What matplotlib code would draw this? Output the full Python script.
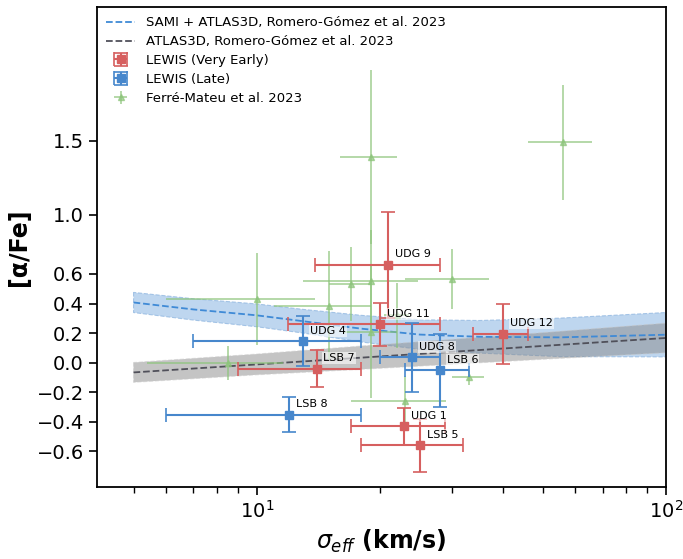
import numpy as np
import matplotlib
matplotlib.use("Agg")
import matplotlib.pyplot as plt

# ---- relations ----
sami_sigma = [5, 7, 10, 13, 18, 25, 35, 55, 100]
sami_y = [0.407, 0.36, 0.32, 0.28, 0.23, 0.19, 0.175, 0.171, 0.189]
sami_hw = [0.068, 0.072, 0.077, 0.08, 0.09, 0.10, 0.11, 0.13, 0.15]

atlas_sigma = [5, 10, 20, 50, 100]
atlas_y = [-0.066, -0.012, 0.042, 0.113, 0.167]
atlas_hw = [0.067, 0.07, 0.08, 0.09, 0.10]

# ---- LEWIS very early ----
early_names = ['UDG 9', 'UDG 11', 'UDG 12', 'LSB 7', 'UDG 1', 'LSB 5']
early_x = [20.9, 20.0, 40.0, 14.0, 22.9, 25.0]
early_y = [0.66, 0.26, 0.195, -0.04, -0.43, -0.56]
early_xlo = [7.0, 8.1, 6.2, 5.0, 5.9, 7.0]
early_xhi = [7.1, 8.0, 6.0, 4.0, 5.9, 7.0]
early_yerr = [0.36, 0.145, 0.205, 0.124, 0.125, 0.18]

# ---- LEWIS late ----
late_names = ['UDG 4', 'UDG 8', 'LSB 6', 'LSB 8']
late_x = [13.0, 24.0, 28.0, 12.0]
late_y = [0.145, 0.035, -0.052, -0.353]
late_xlo = [6.0, 4.0, 5.0, 6.0]
late_xhi = [5.0, 4.0, 5.0, 6.0]
late_yerr = [0.168, 0.236, 0.245, 0.118]

# ---- Ferre-Mateu et al. 2023 ----
fm_x = [10, 8.5, 15, 17, 19, 19, 19, 22, 30, 33, 23, 56]
fm_y = [0.43, 0.0, 0.385, 0.53, 1.39, 0.55, 0.21, 0.32, 0.566, -0.10, -0.257, 1.49]
fm_xlo = [4.0, 3.1, 4.0, 2.0, 3.0, 6.0, 2.7, 1.5, 7.0, 3.0, 6.0, 10.0]
fm_xhi = [3.9, 3.1, 4.0, 2.0, 3.0, 5.8, 3.0, 1.5, 7.0, 3.0, 6.0, 10.0]
fm_yerr = [0.31, 0.115, 0.37, 0.25, 0.59, 0.35, 0.45, 0.22, 0.2, 0.05, 0.17, 0.39]

yticks = [-0.6, -0.4, -0.2, 0.0, 0.2, 0.4, 0.6, 1.0, 1.5]

RED = '#d65f5f'
BLUE = '#4787cc'
GREEN = '#8cc47a'

fig = plt.figure(figsize=(6.83, 5.59), dpi=100)
ax = fig.add_axes([0.142, 0.129, 0.833, 0.8585])

s_y = np.array(sami_y); s_hw = np.array(sami_hw)
a_y = np.array(atlas_y); a_hw = np.array(atlas_hw)

ax.fill_between(sami_sigma, s_y - s_hw, s_y + s_hw, facecolor='#a9c9ea', alpha=0.75,
                edgecolor='#8fb6e0', linestyle='--', linewidth=0.8, zorder=1)
ax.fill_between(atlas_sigma, a_y - a_hw, a_y + a_hw, facecolor='#8a8a8a', alpha=0.5,
                edgecolor='#c8c8c8', linestyle='--', linewidth=0.8, zorder=1)
ax.plot(sami_sigma, sami_y, '--', color='#3f8ad6', lw=1.3, zorder=2,
        label='SAMI + ATLAS3D, Romero-Gómez et al. 2023')
ax.plot(atlas_sigma, atlas_y, '--', color='#50505a', lw=1.3, zorder=2,
        label='ATLAS3D, Romero-Gómez et al. 2023')

ax.errorbar(early_x, early_y, xerr=[early_xlo, early_xhi], yerr=early_yerr, fmt='s',
            color=RED, ms=6, capsize=5, elinewidth=1.5, capthick=1.2, zorder=4,
            label='LEWIS (Very Early)')
ax.errorbar(late_x, late_y, xerr=[late_xlo, late_xhi], yerr=late_yerr, fmt='s',
            color=BLUE, ms=6, capsize=5, elinewidth=1.5, capthick=1.2, zorder=4,
            label='LEWIS (Late)')
ax.errorbar(fm_x, fm_y, xerr=[fm_xlo, fm_xhi], yerr=fm_yerr, fmt='^',
            color=GREEN, ms=5, elinewidth=1.3, alpha=0.7, zorder=3,
            label='Ferré-Mateu et al. 2023')

for n, x, y in list(zip(early_names, early_x, early_y)) + list(zip(late_names, late_x, late_y)):
    ax.annotate(n, (x, y), xytext=(5, 4), textcoords='offset points', fontsize=8,
                va='bottom', ha='left', zorder=5,
                bbox=dict(boxstyle='square,pad=0.1', fc='white', ec='none', alpha=0.6))

ax.set_xscale('log')
ax.set_xlim(4.07, 100)
ax.set_ylim(-0.84, 2.405)
ax.set_yticks(yticks)
ax.set_yticklabels([f'{t:.1f}'.replace('-', '\u2212') for t in yticks])
ax.tick_params(axis='both', which='major', labelsize=14, length=6, width=1.2)
ax.tick_params(axis='x', which='minor', length=4, width=1.0)
for sp in ax.spines.values():
    sp.set_linewidth(1.3)

ax.set_xlabel(r'$\sigma_{eff}$ (km/s)', fontsize=17, fontweight='bold')
ax.set_ylabel(r'[α/Fe]', fontsize=17, fontweight='bold')

ax.legend(loc='upper left', frameon=False, fontsize=9.5, borderaxespad=0.3,
          handlelength=2.2, labelspacing=0.45)

fig.savefig('out.png', dpi=100)
